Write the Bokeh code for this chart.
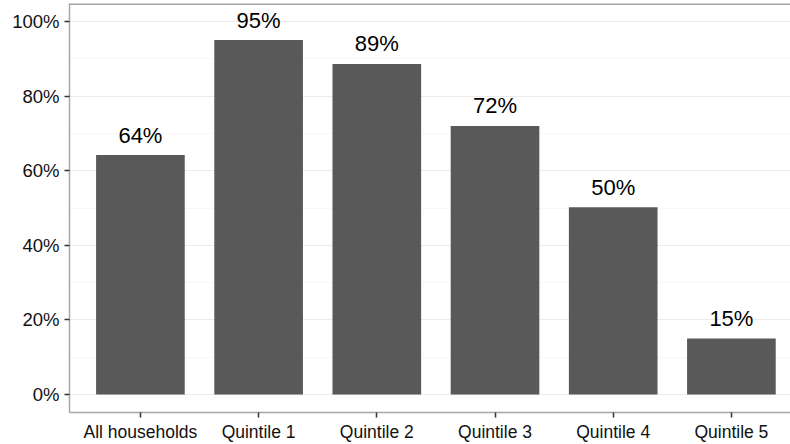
from bokeh.plotting import figure
from bokeh.models import Range1d, FixedTicker, NumeralTickFormatter, ColumnDataSource, Span
from bokeh.embed import file_html
from bokeh.resources import INLINE
from bokeh.core.properties import value

categories = ["All households", "Quintile 1", "Quintile 2", "Quintile 3", "Quintile 4", "Quintile 5"]
shares = [0.642, 0.95, 0.886, 0.72, 0.502, 0.15]
share_labels = ["64%", "95%", "89%", "72%", "50%", "15%"]
y_ticks = [0.0, 0.2, 0.4, 0.6, 0.8, 1.0]
y_minor = [0.1, 0.3, 0.5, 0.7, 0.9]

xs = list(range(1, len(categories) + 1))
src = ColumnDataSource(dict(x=xs, top=shares, label=share_labels))

FONT = "Liberation Sans"

p = figure(width=790, height=444, output_backend="svg", toolbar_location=None,
           x_range=Range1d(0.4, 6.5), y_range=Range1d(-0.0481, 1.0481),
           min_border_left=69, min_border_right=0, min_border_top=3, min_border_bottom=31)
p.outline_line_color = None
p.background_fill_color = "white"
p.border_fill_color = "white"

p.vbar(x="x", top="top", bottom=0, width=0.75, source=src, fill_color="#595959", line_color=None)
p.text(x="x", y="top", text="label", source=src, text_align="center", text_baseline="alphabetic",
       y_offset=-20, text_font=value(FONT), text_font_size="22px", text_color="#000000")

# grid
p.xgrid.grid_line_color = None
p.ygrid.ticker = FixedTicker(ticks=y_ticks, minor_ticks=y_minor)
p.ygrid.grid_line_color = "#ebebeb"
p.ygrid.grid_line_width = 1
p.ygrid.minor_grid_line_color = "#f7f7f7"
p.ygrid.minor_grid_line_width = 1

# y axis
p.yaxis.ticker = FixedTicker(ticks=y_ticks, minor_ticks=[])
p.yaxis.formatter = NumeralTickFormatter(format="0%")
p.yaxis.axis_line_color = "#a6a6a6"
p.yaxis.axis_line_width = 1.5
p.yaxis.major_tick_line_color = "#333333"
p.yaxis.major_tick_line_width = 1.5
p.yaxis.major_tick_out = 5
p.yaxis.major_tick_in = 0
p.yaxis.minor_tick_line_color = None
p.yaxis.major_label_standoff = 5
p.yaxis.major_label_text_font = FONT
p.yaxis.major_label_text_font_size = "18.5px"
p.yaxis.major_label_text_color = "#111111"

# x axis
p.xaxis.ticker = FixedTicker(ticks=xs, minor_ticks=[])
p.xaxis.major_label_overrides = {x: c for x, c in zip(xs, categories)}
p.xaxis.axis_line_color = "#a6a6a6"
p.xaxis.axis_line_width = 1.5
p.xaxis.major_tick_line_color = "#333333"
p.xaxis.major_tick_line_width = 1.5
p.xaxis.major_tick_out = 5
p.xaxis.major_tick_in = 0
p.xaxis.minor_tick_line_color = None
p.xaxis.major_label_standoff = 4
p.xaxis.major_label_text_font = FONT
p.xaxis.major_label_text_font_size = "17.5px"
p.xaxis.major_label_text_color = "#111111"

# top panel border
p.add_layout(Span(location=1.0481, dimension="width", line_color="#a6a6a6", line_width=3))

open("out.html", "w").write(file_html(p, INLINE))
